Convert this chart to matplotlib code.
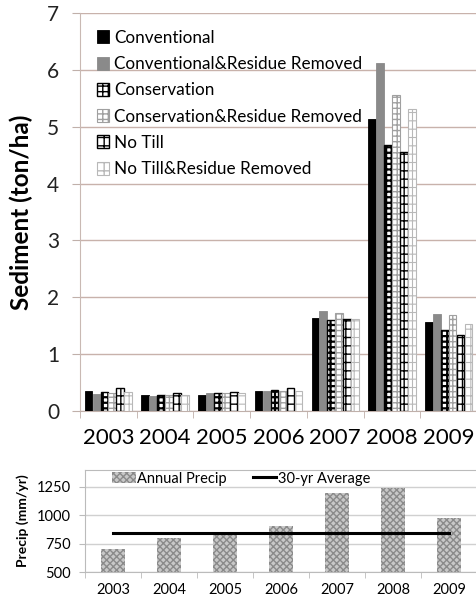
import matplotlib
matplotlib.use("Agg")
import matplotlib.pyplot as plt
import numpy as np

years = ["2003", "2004", "2005", "2006", "2007", "2008", "2009"]
series_names = ["Conventional", "Conventional&Residue Removed", "Conservation",
                "Conservation&Residue Removed", "No Till", "No Till&Residue Removed"]
conventional = [0.35, 0.28, 0.29, 0.36, 1.64, 5.13, 1.56]
conventional_rr = [0.30, 0.27, 0.32, 0.36, 1.76, 6.12, 1.70]
conservation = [0.33, 0.29, 0.32, 0.37, 1.60, 4.68, 1.42]
conservation_rr = [0.32, 0.285, 0.32, 0.355, 1.72, 5.55, 1.69]
no_till = [0.41, 0.32, 0.34, 0.40, 1.61, 4.55, 1.33]
no_till_rr = [0.34, 0.28, 0.31, 0.36, 1.61, 5.31, 1.53]

annual_precip = [703, 800, 835, 905, 1197, 1243, 980]
avg_30yr = 845
precip_ticks = [500, 750, 1000, 1250]

plt.rcParams['font.family'] = ['Lato', 'DejaVu Sans']

W, H = 477, 602
fig = plt.figure(figsize=(W / 100, H / 100), dpi=100)

# ---------- top panel ----------
ax = fig.add_axes([80 / W, 1 - 411 / H, 397 / W, (411 - 13) / H])
data = [conventional, conventional_rr, conservation, conservation_rr, no_till, no_till_rr]
styles = [
    dict(fc="black", ec="black", hatch=None, lw=0.6, hlw=1.0),
    dict(fc="#8a8a8a", ec="#8a8a8a", hatch=None, lw=0.6, hlw=1.0),
    dict(fc="white", ec="black", hatch="+++", lw=1.0, hlw=1.6),
    dict(fc="white", ec="#a0a0a0", hatch="+++", lw=0.8, hlw=1.0),
    dict(fc="white", ec="black", hatch="++", lw=1.0, hlw=1.0),
    dict(fc="white", ec="#b8b8b8", hatch="++", lw=0.8, hlw=0.8),
]
x = np.arange(len(years))
bw = 0.135
step = 0.14
for i, (vals, st) in enumerate(zip(data, styles)):
    with plt.rc_context({'hatch.linewidth': st['hlw']}):
        ax.bar(x + (i - 2.5) * step, vals, width=bw, facecolor=st['fc'],
               edgecolor=st['ec'], hatch=st['hatch'], linewidth=st['lw'],
               label=series_names[i], zorder=3)

ax.set_xlim(-0.5, 6.5)
ax.set_ylim(0, 7)
ax.set_yticks(range(0, 8))
ax.set_xticks(x)
ax.set_xticklabels(years, fontsize=16)
ax.set_xticks(np.arange(-0.5, 7, 1), minor=True)
ax.tick_params(axis='x', which='major', length=0, pad=12)
ax.tick_params(axis='x', which='minor', length=5, color="#c0b0aa")
ax.tick_params(axis='y', length=6, color="#c0b0aa", labelsize=15, pad=9, labelcolor="#222222")
ax.grid(axis='y', color="#c8b2ab", lw=1.0, zorder=0)
for s in ['top', 'right']:
    ax.spines[s].set_visible(False)
ax.spines['left'].set_color("#c9b9b3")
ax.spines['bottom'].set_color("#c0b0aa")
ax.set_ylabel("Sediment (ton/ha)", fontsize=17.5, fontweight='bold', labelpad=10)
ax.legend(loc='upper left', bbox_to_anchor=(0.025, 0.975), frameon=False,
          fontsize=12.3, handlelength=0.7, handleheight=0.8, handletextpad=0.3,
          labelspacing=0.6, borderaxespad=0)

# ---------- bottom panel ----------
ax2 = fig.add_axes([85 / W, 1 - 572 / H, 392 / W, (572 - 470) / H])
with plt.rc_context({'hatch.linewidth': 1.0}):
    bars = ax2.bar(x, np.array(annual_precip) - 500, bottom=500, width=0.43,
                   facecolor="#c8c8c8", edgecolor="#8a8a8a", hatch="xxxxx",
                   linewidth=0, label="Annual Precip", zorder=3)
line, = ax2.plot([x[0], x[-1]], [avg_30yr, avg_30yr], color="black", lw=2.2,
                 label="30-yr Average", zorder=4)
ax2.set_xlim(-0.5, 6.5)
ax2.set_ylim(500, 1400)
ax2.set_yticks(precip_ticks)
ax2.set_xticks(x)
ax2.set_xticklabels(years, fontsize=10.5)
ax2.set_xticks(np.arange(-0.5, 7, 1), minor=True)
ax2.tick_params(axis='x', which='major', length=0, pad=8)
ax2.tick_params(axis='x', which='minor', length=4, color="#bbbbbb")
ax2.tick_params(axis='y', length=4, color="#bbbbbb", labelsize=10.5, pad=6)
ax2.grid(axis='y', color="#d0d0d0", lw=1.0, zorder=0)
ax2.spines['right'].set_visible(False)
for s in ['top', 'left', 'bottom']:
    ax2.spines[s].set_color("#bbbbbb")
ax2.set_ylabel("Precip (mm/yr)", fontsize=10, fontweight='bold', labelpad=6)
ax2.legend(handles=[bars, line], labels=["Annual Precip", "30-yr Average"],
           loc='upper left', bbox_to_anchor=(0.055, 1.04), ncol=2, frameon=False,
           fontsize=10.5, handlelength=1.6, handleheight=0.8, handletextpad=0.1,
           columnspacing=1.8, borderaxespad=0)

fig.savefig("out.png", dpi=100)
